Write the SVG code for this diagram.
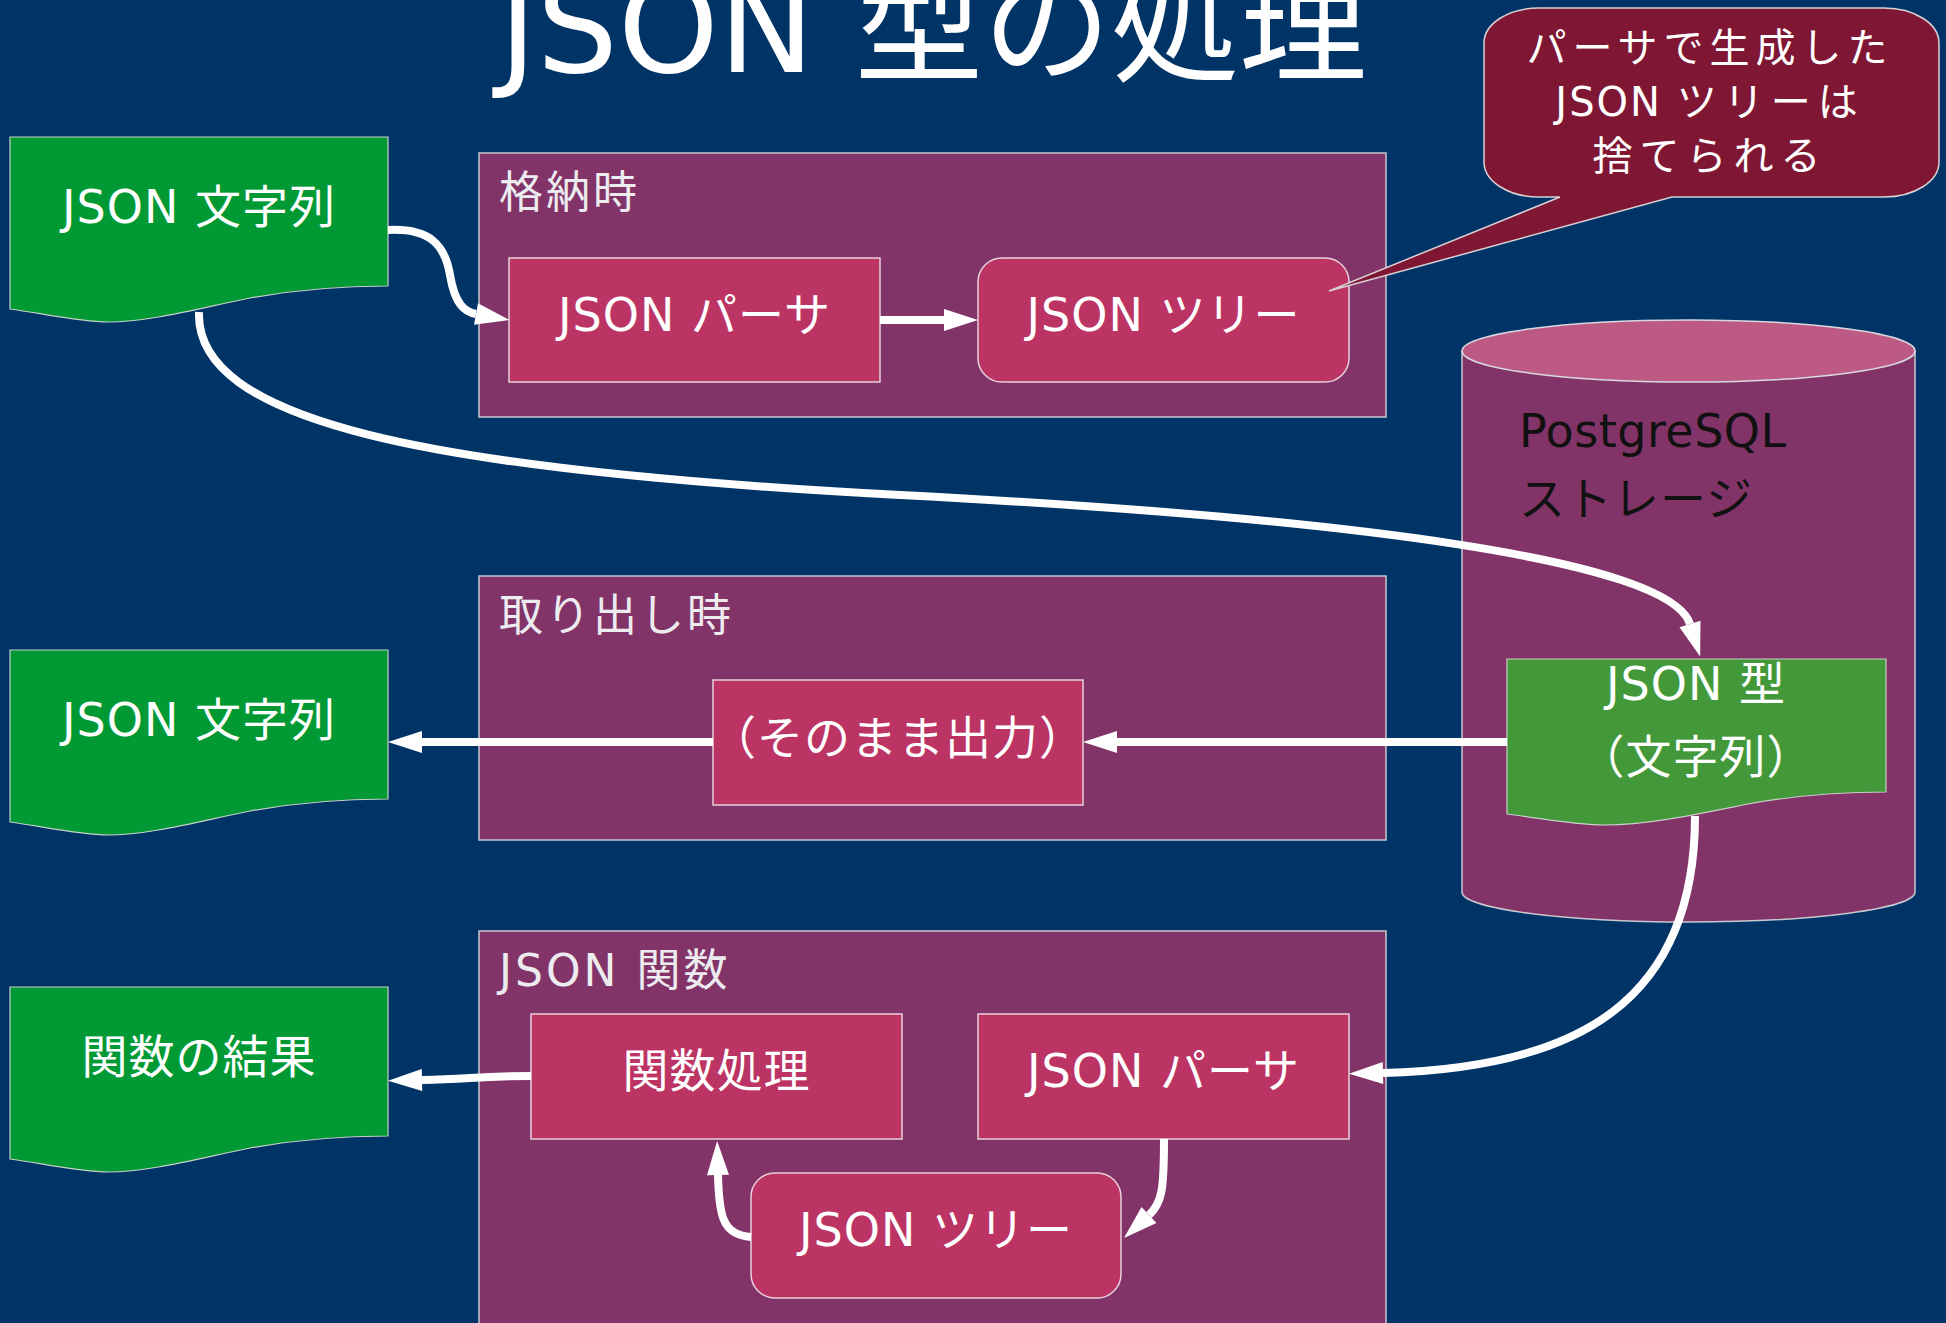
<svg xmlns="http://www.w3.org/2000/svg" width="1946" height="1323" viewBox="0 0 1946 1323">
<defs>
<style>
text{font-family:"DejaVu Sans","Noto Sans CJK JP",sans-serif;}
.grp{fill:#823468;stroke:#c8c8d0;stroke-width:1.5;}
.box{fill:#bc3464;stroke:#e6d0da;stroke-width:1.5;}
.doc{fill:#009933;stroke:#c8d0c8;stroke-width:1.2;}
.lbl{fill:#ececf0;font-size:44px;letter-spacing:3px;}
.t{fill:#ffffff;font-size:46px;text-anchor:middle;letter-spacing:1px;}
.c{fill:#ffffff;font-size:40px;text-anchor:middle;}
.con{fill:none;stroke:#ffffff;stroke-width:8;marker-end:url(#ah);}
</style>
<marker id="ah" markerUnits="userSpaceOnUse" markerWidth="36" markerHeight="24" refX="0" refY="11" orient="auto" overflow="visible">
<path d="M0,0 L34,11 L0,22 Z" fill="#ffffff"/>
</marker>
<path id="docshape" d="M0,0 H378 V149 C330,149 290,152 240,161 C190,171 140,185 98,185 C70,185 30,176 0,172 Z"/>
</defs>
<rect x="0" y="0" width="1946" height="1323" fill="#003466"/>

<g id="title">
<text x="933" y="72" font-size="128" fill="#ffffff" text-anchor="middle">JSON 型の処理</text>
</g>

<g id="group-store">
<rect class="grp" x="479" y="153" width="907" height="264"/>
<text class="lbl" x="499" y="208">格納時</text>
</g>
<g id="group-fetch">
<rect class="grp" x="479" y="576" width="907" height="264"/>
<text class="lbl" x="499" y="631">取り出し時</text>
</g>
<g id="group-func">
<rect class="grp" x="479" y="931" width="907" height="410"/>
<text class="lbl" x="499" y="986">JSON 関数</text>
</g>

<g id="storage">
<path d="M1462,351 V892 A226.5,30 0 0 0 1915,892 V351 Z" fill="#823468" stroke="#c8c8d0" stroke-width="1.5"/>
<ellipse cx="1688.5" cy="351" rx="226.5" ry="31" fill="#bc5a84" stroke="#d8d8e0" stroke-width="1.5"/>
<text x="1519" y="447" font-size="46" fill="#111111" letter-spacing="0.5">PostgreSQL</text>
<text x="1519" y="515" font-size="46" fill="#111111" letter-spacing="1">ストレージ</text>
</g>

<g id="doc-json-in">
<use href="#docshape" class="doc" x="10" y="137"/>
<text class="t" x="199" y="223">JSON 文字列</text>
</g>
<g id="doc-json-out">
<use href="#docshape" class="doc" x="10" y="650"/>
<text class="t" x="199" y="736">JSON 文字列</text>
</g>
<g id="doc-func-result">
<use href="#docshape" class="doc" x="10" y="987"/>
<text class="t" x="199" y="1073">関数の結果</text>
</g>
<g id="doc-json-type">
<path d="M1507,659 H1886 V792 C1838,792 1798,795 1748,804 C1698,814 1648,825 1605,825 C1577,825 1537,818 1507,814 Z" fill="#43993a" stroke="#c8d0c8" stroke-width="1.2"/>
<text class="t" x="1696" y="700">JSON 型</text>
<text class="t" x="1696" y="773">（文字列）</text>
</g>

<g id="parser-store">
<rect class="box" x="509" y="258" width="371" height="124"/>
<text class="t" x="694.5" y="331">JSON パーサ</text>
</g>
<g id="tree-store">
<rect class="box" x="978" y="258" width="371" height="124" rx="24" ry="24"/>
<text class="t" x="1163.5" y="331">JSON ツリー</text>
</g>
<g id="passthrough">
<rect class="box" x="713" y="680" width="370" height="125"/>
<text class="t" x="898" y="754" font-size="44">（そのまま出力）</text>
</g>
<g id="func-proc">
<rect class="box" x="531" y="1014" width="371" height="125"/>
<text class="t" x="716.5" y="1087">関数処理</text>
</g>
<g id="parser-func">
<rect class="box" x="978" y="1014" width="371" height="125"/>
<text class="t" x="1163.5" y="1087">JSON パーサ</text>
</g>
<g id="tree-func">
<rect class="box" x="751" y="1173" width="370" height="125" rx="24" ry="24"/>
<text class="t" x="936" y="1246">JSON ツリー</text>
</g>

<g id="connectors">
<path class="con" d="M880,320 H944"/>
<path class="con" d="M388,230 C430,228 445,245 450,275 C455,305 465,312 476,314"/>
<path class="con" d="M199,312 C195,420 420,470 900,495 C1350,518 1670,560 1690,624"/>
<path class="con" d="M1507,742 H1117"/>
<path class="con" d="M713,742 H422"/>
<path class="con" d="M1695,816 C1695,1000 1580,1068 1383,1073"/>
<path class="con" d="M531,1076 C480,1076 470,1079 422,1080"/>
<path class="con" d="M1164,1139 C1164,1190 1162,1203 1149,1215"/>
<path class="con" d="M751,1237 C722,1235 719,1215 718,1175"/>
</g>

<g id="callout">
<path d="M1539,8 H1884 A55,35 0 0 1 1939,43 V162 A55,35 0 0 1 1884,197 H1672 L1329,291 L1560,197 H1539 A55,35 0 0 1 1484,162 V43 A55,35 0 0 1 1539,8 Z" fill="#7f1734" stroke="#d8d0d4" stroke-width="1.5"/>
<text class="c" x="1710" y="62" letter-spacing="6">パーサで生成した</text>
<text class="c" x="1710" y="116"><tspan letter-spacing="2">JSON </tspan><tspan letter-spacing="7">ツリーは</tspan></text>
<text class="c" x="1710" y="170" letter-spacing="7">捨てられる</text>
</g>
</svg>
